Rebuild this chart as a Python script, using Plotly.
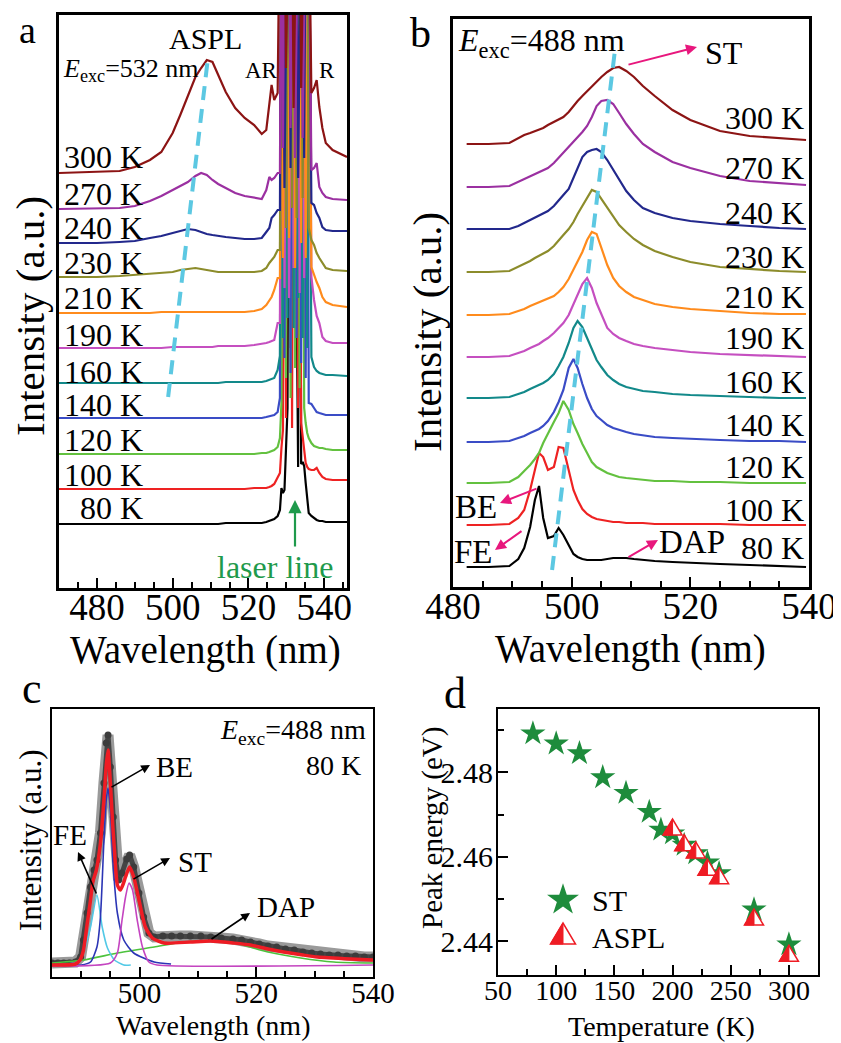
import plotly.graph_objects as go

# The page body adds an 8 px margin, so the figure is sized and positioned to compensate.
PAGE_W, PAGE_H = 841, 1043
OFF = 8
W, H = PAGE_W - OFF, PAGE_H - OFF
SERIF = "Liberation Serif, Times New Roman, serif"

TEMP_LABELS = ["80 K", "100 K", "120 K", "140 K", "160 K", "190 K", "210 K", "230 K", "240 K", "270 K", "300 K"]
TEMP_COLORS = ["#000000", "#ee2222", "#63c13f", "#3a4cc6", "#12898a", "#c54fc0",
               "#ff8b1c", "#8c8c2b", "#22288c", "#9b30a1", "#8c1414"]

# ---------------- panel a : ASPL spectra (E_exc = 532 nm) ----------------
WL_A = [470, 480, 486, 490, 494, 497, 500, 502, 504, 506, 507.5, 509, 510.5, 512, 514, 516.5,
        519, 521.5, 523.5, 524.7, 525.5, 526.1, 526.8, 527.7,
        528.3, 528.7, 529.1, 529.5, 529.9, 530.3, 530.7, 531.1, 531.5, 531.9,
        532.3, 532.7, 533.1, 533.5, 533.9, 534.3, 534.7, 535.1, 535.5, 535.9,
        536.6, 537.3, 538.0, 538.7, 539.5, 540.4, 542.2, 546]
A_300K = [415, 416, 417, 421, 428, 436, 455, 473, 493, 511, 520, 528, 526, 513, 496, 480, 470, 463, 454, 458,
          481, 503, 488, 495,
          700, 700, 700, 700, 520, 700, 700, 700, 700, 480, 700, 700, 700, 700, 500, 700, 700, 700, 700, 700,
          495, 500, 508, 481, 460, 445, 438, 431]
A_270K = [379, 380, 380, 382, 387, 392, 398, 402, 406, 412, 415, 413, 408, 404, 400, 395, 392, 390, 389, 398,
          411, 408, 410, 415,
          415, 700, 440, 700, 700, 700, 700, 460, 700, 700, 430, 700, 700, 700, 700, 450, 700, 700, 700, 700,
          418, 420, 425, 401, 395, 391, 389, 388]
A_240K = [345, 345, 346, 347, 350, 352, 355, 357, 359, 358, 356, 354, 353, 352, 351, 350, 349, 349, 350, 356,
          360, 370, 373, 378,
          378, 700, 700, 400, 700, 700, 700, 420, 700, 700, 700, 700, 410, 700, 700, 700, 430, 700, 700, 700,
          385, 383, 375, 370, 361, 358, 357, 357]
A_230K = [311, 311, 312, 313, 314, 315, 316, 318, 319, 320, 319, 318, 317, 316, 316, 316, 316, 316, 317, 320,
          325, 328, 331, 338,
          338, 700, 700, 700, 360, 700, 700, 700, 380, 700, 700, 370, 700, 700, 700, 390, 700, 700, 700, 360,
          348, 343, 335, 330, 325, 320, 318, 317]
A_210K = [275, 275, 275, 275, 275, 276, 276, 276, 276, 276, 276, 276, 276, 276, 276, 276, 276, 277, 279, 283,
          288, 291, 298, 310,
          310, 700, 330, 700, 700, 700, 350, 700, 700, 700, 320, 700, 700, 700, 345, 700, 700, 330, 700, 700,
          321, 313, 306, 300, 291, 286, 283, 281]
A_190K = [240, 240, 240, 240, 240, 240, 241, 241, 241, 241, 241, 241, 241, 242, 242, 242, 242, 243, 244, 245,
          246, 247, 248, 265,
          265, 700, 700, 300, 700, 700, 290, 700, 700, 320, 700, 700, 700, 295, 700, 700, 310, 700, 700, 700,
          311, 288, 272, 265, 251, 247, 245, 245]
A_160K = [205, 205, 205, 205, 205, 205, 205, 205, 205, 205, 205, 205, 205, 205, 206, 206, 206, 206, 206, 207,
          208, 209, 210, 218,
          232, 700, 250, 700, 700, 270, 700, 700, 700, 260, 700, 700, 290, 700, 700, 250, 700, 700, 240, 700,
          231, 221, 217, 215, 214, 213, 213, 212]
A_140K = [170, 170, 170, 170, 170, 170, 170, 170, 170, 170, 170, 170, 170, 170, 170, 170, 170, 170, 170, 171,
          172, 172, 173, 176,
          190, 700, 700, 230, 700, 700, 700, 215, 700, 700, 700, 250, 700, 700, 225, 700, 700, 210, 700, 185,
          184, 180, 176, 175, 174, 173, 173, 173]
A_120K = [134, 134, 134, 134, 134, 134, 134, 134, 134, 134, 134, 134, 134, 134, 134, 134, 134, 134, 135, 135,
          136, 137, 138, 141,
          150, 185, 700, 700, 210, 700, 700, 190, 700, 700, 220, 700, 700, 200, 700, 700, 180, 165, 155, 150,
          145, 142, 141, 140, 140, 139, 138, 138]
A_100K = [99, 99, 99, 99, 99, 99, 99, 99, 99, 99, 99, 99, 99, 99, 99, 99, 99, 100, 100, 100,
          101, 102, 104, 111,
          115, 140, 158, 700, 170, 700, 700, 700, 160, 700, 700, 700, 180, 700, 165, 150, 135, 125, 121, 119,
          118, 118, 120, 115, 111, 109, 108, 108]
A_80K = [64, 64, 64, 64, 64, 64, 64, 64, 64, 64, 64, 64, 64, 64, 65, 65, 65, 65, 65, 66,
         67, 68, 69, 72,
         78, 100, 95, 98, 131, 180, 700, 240, 700, 700, 700, 300, 121, 700, 124, 126, 122, 105, 90, 75,
         72, 70, 68, 67, 67, 66, 66, 66]
A_CURVES = [A_80K, A_100K, A_120K, A_140K, A_160K, A_190K, A_210K, A_230K, A_240K, A_270K, A_300K]
GUIDE_A_WL = [498.8, 509.3]
GUIDE_A_I = [191, 530]

# ---------------- panel b : PL spectra (E_exc = 488 nm) ----------------
WL_B = [482.3, 486, 489.5, 491, 492, 493, 493.8, 494.5, 495.2, 496, 497, 497.8, 498.6, 499.5, 500.3, 501,
        501.8, 502.6, 503.4, 504.2, 505, 506, 507, 508, 509.2, 510.5, 512, 514, 517, 520, 525, 530, 535, 539.5]
B_300K = [443, 443, 444, 449, 452, 454, 456, 457, 459, 462, 465, 467, 470, 475, 481, 486, 491, 496, 501, 506,
          510, 515, 519, 520, 516, 510, 501, 491, 477, 467, 456, 451, 449, 447]
B_270K = [400, 400, 401, 405, 408, 411, 413, 415, 417, 419, 424, 429, 434, 440, 445, 450, 455, 461, 470, 481,
          486, 487, 483, 474, 463, 453, 443, 435, 425, 419, 411, 406, 404, 402]
B_240K = [358, 358, 358, 361, 364, 367, 369, 371, 373, 376, 381, 387, 392, 398, 409, 420, 430, 435, 437, 438,
          435, 427, 417, 407, 396, 387, 379, 374, 369, 366, 363, 361, 359, 358]
B_230K = [315, 315, 316, 320, 323, 326, 329, 331, 333, 336, 341, 347, 352, 358, 365, 373, 381, 390, 397, 395,
          388, 380, 370, 362, 355, 348, 342, 336, 330, 325, 320, 318, 316, 315]
B_210K = [272, 272, 273, 276, 278, 281, 283, 285, 286, 288, 291, 295, 300, 308, 317, 325, 335, 347, 355, 353,
          339, 322, 309, 301, 295, 290, 287, 283, 280, 278, 276, 274, 273, 273]
B_190K = [230, 230, 231, 234, 236, 239, 241, 243, 246, 249, 254, 259, 264, 272, 283, 293, 303, 309, 299, 284,
          272, 259, 253, 249, 246, 243, 241, 239, 237, 235, 233, 232, 231, 230]
B_160K = [189, 189, 190, 193, 195, 198, 200, 202, 204, 207, 213, 221, 230, 244, 259, 266, 260, 249, 237, 227,
          220, 212, 207, 203, 200, 198, 196, 195, 193, 192, 191, 190, 189, 189]
B_140K = [145, 145, 146, 149, 151, 154, 156, 158, 161, 166, 175, 185, 197, 219, 228, 219, 203, 189, 178, 171,
          167, 162, 159, 157, 155, 153, 152, 150, 149, 148, 147, 146, 146, 145]
B_120K = [104, 104, 105, 110, 116, 122, 128, 134, 144, 154, 165, 174, 186, 177, 163, 154, 143, 134, 125, 120,
          117, 114, 112, 110, 109, 108, 107, 106, 106, 105, 105, 104, 104, 104]
B_100K = [62, 62, 63, 69, 77, 97, 117, 134, 130, 117, 120, 140, 139, 117, 97, 87, 78, 73, 70, 68,
          67, 66, 65, 65, 64, 64, 64, 63, 63, 63, 63, 62, 62, 62]
B_80K = [20, 20, 21, 28, 39, 60, 87, 101, 69, 49, 51, 59, 52, 42, 33, 30, 28, 27, 27, 27,
         27, 28, 29, 29, 29, 28, 27, 26, 25, 24, 23, 22, 21, 20]
B_CURVES = [B_80K, B_100K, B_120K, B_140K, B_160K, B_190K, B_210K, B_230K, B_240K, B_270K, B_300K]
GUIDE_B_WL = [496.7, 507.3]
GUIDE_B_I = [17, 537]

# ---------------- panel c : 80 K spectrum and fit ----------------
C_DATA_WL = [485, 486, 487, 488, 489, 489.9, 490.4, 491, 491.6, 492.2, 492.7, 493.3, 493.9, 494.3, 494.6,
             495, 495.5, 495.9, 496.4, 497, 497.8, 498.3, 499, 499.9, 500.7, 501.6, 502.5, 504, 505.5, 507,
             508.7, 510.5, 512.2, 514, 516, 517.5, 519, 520.5, 522, 523.5, 525, 526.5, 528, 529.5, 531,
             532.5, 534, 535.5, 537, 538.5, 540]
C_DATA = [14, 14, 14, 14, 15, 20, 37, 64, 90, 107, 117, 144, 194, 234, 242,
          210, 160, 117, 97, 104, 118, 122, 110, 84, 60, 44, 40, 41, 41, 41,
          41, 41, 40, 39, 38, 37, 35, 33, 31, 30, 28, 27, 25, 24, 23,
          22, 22, 21, 21, 20, 20]
C_FIT_WL = [485, 489, 489.8, 490.4, 491, 491.6, 492, 492.6, 493.3, 493.9, 494.3, 494.6, 495, 495.4, 495.7,
            496.2, 496.7, 497.2, 497.6, 498.3, 499, 499.9, 501, 502.2, 504.2, 508.7, 512.2, 516, 519, 522,
            524.7, 528, 530.5, 536.2, 540]
C_FIT = [12, 13, 17, 27, 52, 77, 95, 107, 134, 177, 212, 227, 194, 152, 127,
         92, 87, 93, 100, 110, 100, 77, 50, 39, 34, 35, 36, 34, 32, 28,
         25, 22, 20, 18, 17]
C_DAP_WL = [485, 490.4, 496.2, 502.5, 507.6, 512.2, 516.2, 522, 527.6, 533.3, 540]
C_DAP = [14, 17, 24, 30, 35, 36, 34, 25, 19, 15, 14]
C_BE_WL = [485, 490, 491.6, 492.7, 493.3, 493.9, 494.3, 494.6, 495, 495.5, 496.2, 497.3, 499, 502.5, 505.4]
C_BE = [12, 12, 15, 30, 60, 137, 177, 189, 167, 110, 64, 37, 24, 15, 13]
C_FE_WL = [485, 489.3, 490.4, 491.6, 492.7, 493.6, 494.5, 495.7, 497.3, 498.5]
C_FE = [12, 15, 25, 50, 82, 50, 29, 17, 12, 12]
C_ST_WL = [485, 495, 496.2, 497, 497.6, 498.2, 498.8, 499.6, 500.5, 501.6, 503, 540]
C_ST = [11, 14, 24, 57, 80, 94, 87, 57, 30, 15, 12, 12]

# ---------------- panel d : peak energies ----------------
D_ST_T = [80, 100, 120, 140, 160, 180, 190, 200, 210, 220, 230, 240, 270, 300]
D_ST_E = [2.4892, 2.4868, 2.4845, 2.4788, 2.4751, 2.4706, 2.4664, 2.4655, 2.4628, 2.4608, 2.4586, 2.4561,
          2.4475, 2.4392]
D_ASPL_T = [200, 210, 220, 230, 240, 270, 300]
D_ASPL_E = [2.4664, 2.4627, 2.4610, 2.4569, 2.4549, 2.4451, 2.4365]

STAR_GREEN = "#1e8c3c"
TRI_RED = "#ee1c24"
PINK = "#e8177d"
LASER_GREEN = "#1f9a4c"
GUIDE_CYAN = "#5cc8e2"


# ---------------- helpers (reference-pixel positions -> paper) ----------------
def fx(x):
    return (x - OFF) / W


def fy(y):
    return 1 - (y - OFF) / H


def dom_x(l, r):
    return [fx(l), fx(r)]


def dom_y(t, b):
    return [fy(b), fy(t)]


def txt(text, x, y, size, xanchor="center", yanchor="middle", color="black", angle=0):
    return dict(text=text, x=fx(x), y=fy(y), xref="paper", yref="paper", showarrow=False,
                font=dict(family=SERIF, size=size, color=color), xanchor=xanchor, yanchor=yanchor,
                textangle=angle)


def arrow(x0, y0, x1, y1, color, width=2.0, size=1.1):
    return dict(text="", x=fx(x1), y=fy(y1), xref="paper", yref="paper", ax=x0 - x1, ay=y0 - y1,
                showarrow=True, arrowhead=2, arrowsize=size, arrowwidth=width, arrowcolor=color)


def half_triangle(xref, yref, xa, ya, w, h):
    outline = dict(type="path", xref=xref, yref=yref, xsizemode="pixel", ysizemode="pixel",
                   xanchor=xa, yanchor=ya,
                   path=f"M{-w / 2},{-h / 3} L{w / 2},{-h / 3} L0,{2 * h / 3} Z",
                   fillcolor="white", line=dict(color=TRI_RED, width=1.5), layer="above")
    left = dict(type="path", xref=xref, yref=yref, xsizemode="pixel", ysizemode="pixel",
                xanchor=xa, yanchor=ya,
                path=f"M0,{2 * h / 3} L{-w / 2},{-h / 3} L0,{-h / 3} Z",
                fillcolor=TRI_RED, line=dict(color=TRI_RED, width=1), layer="above")
    return [outline, left]


fig = go.Figure()

# panel a curves
for lab, col, ys in zip(TEMP_LABELS, TEMP_COLORS, A_CURVES):
    fig.add_trace(go.Scatter(x=WL_A, y=ys, mode="lines", line=dict(color=col, width=2.2),
                             xaxis="x", yaxis="y", showlegend=False, hoverinfo="skip", name=lab))
fig.add_trace(go.Scatter(x=GUIDE_A_WL, y=GUIDE_A_I, mode="lines",
                         line=dict(color=GUIDE_CYAN, width=4, dash="14px,9px"),
                         xaxis="x", yaxis="y", showlegend=False, hoverinfo="skip"))

# panel b curves
for lab, col, ys in zip(TEMP_LABELS, TEMP_COLORS, B_CURVES):
    fig.add_trace(go.Scatter(x=WL_B, y=ys, mode="lines", line=dict(color=col, width=2.2),
                             xaxis="x2", yaxis="y2", showlegend=False, hoverinfo="skip", name=lab))
fig.add_trace(go.Scatter(x=GUIDE_B_WL, y=GUIDE_B_I, mode="lines",
                         line=dict(color=GUIDE_CYAN, width=4, dash="14px,9px"),
                         xaxis="x2", yaxis="y2", showlegend=False, hoverinfo="skip"))

# panel c
fig.add_trace(go.Scatter(x=C_DATA_WL, y=C_DATA, mode="lines", line=dict(color="#9a9a9a", width=11),
                         xaxis="x3", yaxis="y3", showlegend=False, hoverinfo="skip"))
fig.add_trace(go.Scatter(x=C_DATA_WL, y=C_DATA, mode="lines+markers", line=dict(color="#454545", width=5),
                         marker=dict(color="#3c3c3c", size=7),
                         xaxis="x3", yaxis="y3", showlegend=False, hoverinfo="skip"))
for xs, ys, col in [(C_DAP_WL, C_DAP, "#4cc23c"), (C_FE_WL, C_FE, "#52c9e6"),
                    (C_BE_WL, C_BE, "#2b35b5"), (C_ST_WL, C_ST, "#c444c0")]:
    fig.add_trace(go.Scatter(x=xs, y=ys, mode="lines", line=dict(color=col, width=1.6, shape="spline",
                                                                 smoothing=0.6),
                             xaxis="x3", yaxis="y3", showlegend=False, hoverinfo="skip"))
fig.add_trace(go.Scatter(x=C_FIT_WL, y=C_FIT, mode="lines",
                         line=dict(color="#ee1c24", width=3.5, shape="spline", smoothing=0.6),
                         xaxis="x3", yaxis="y3", showlegend=False, hoverinfo="skip"))

# panel d
fig.add_trace(go.Scatter(x=D_ST_T, y=D_ST_E, mode="markers",
                         marker=dict(symbol="star", size=19, color=STAR_GREEN, line=dict(width=0)),
                         xaxis="x4", yaxis="y4", showlegend=False, hoverinfo="skip"))
shapes = []
for t, e in zip(D_ASPL_T, D_ASPL_E):
    shapes += half_triangle("x4", "y4", t, e, 19, 16)

# legend keys of panel d (overlay axes in reference pixels)
LEGEND_ST_KEY = [563, 900]
LEGEND_ASPL_KEY = [563, 937]
fig.add_trace(go.Scatter(x=[LEGEND_ST_KEY[0]], y=[LEGEND_ST_KEY[1]], mode="markers",
                         marker=dict(symbol="star", size=24, color=STAR_GREEN, line=dict(width=0)),
                         xaxis="x5", yaxis="y5", showlegend=False, hoverinfo="skip"))
shapes += half_triangle("paper", "paper", fx(LEGEND_ASPL_KEY[0]), fy(LEGEND_ASPL_KEY[1]), 25, 21)


# ---------------- axes ----------------
def xax(domain, rng, tick0, dtick, mtick0, mdtick, anchor, fs, standoff, lw=2.5):
    return dict(domain=domain, range=rng, anchor=anchor, showgrid=False, zeroline=False, showline=True,
                mirror=True, linecolor="black", linewidth=lw, ticks="inside", ticklen=10, tickwidth=2,
                tickcolor="black", tick0=tick0, dtick=dtick, automargin=False, ticklabelstandoff=standoff,
                minor=dict(tick0=mtick0, dtick=mdtick, ticks="inside", ticklen=6, tickwidth=1.5,
                           tickcolor="black", showgrid=False),
                tickfont=dict(family=SERIF, size=fs, color="black"))


def yblank(domain, rng, anchor, lw=2.5):
    return dict(domain=domain, range=rng, anchor=anchor, showgrid=False, zeroline=False, showline=True,
                mirror=True, linecolor="black", linewidth=lw, ticks="", showticklabels=False,
                automargin=False)


layout = dict(
    width=W, height=H, autosize=False,
    margin=dict(l=0, r=0, t=0, b=0, pad=0, autoexpand=False),
    paper_bgcolor="white", plot_bgcolor="rgba(0,0,0,0)",
    showlegend=False,
    xaxis=xax(dom_x(59, 347), [470, 546], 480, 20, 475, 5, "y", 37, -15),
    yaxis=yblank(dom_y(15, 588), [0, 573], "x"),
    xaxis2=xax(dom_x(453, 809), [480, 540], 480, 20, 480, 5, "y2", 37, -15),
    yaxis2=yblank(dom_y(19, 587), [0, 568], "x2"),
    xaxis3=xax(dom_x(52, 373), [485, 540], 500, 20, 485, 5, "y3", 29, -11, lw=2),
    yaxis3=yblank(dom_y(709, 977), [0, 268], "x3", lw=2),
    xaxis4=xax(dom_x(498, 818), [50, 325], 50, 50, 75, 25, "y4", 28, -11, lw=2),
    yaxis4=dict(domain=dom_y(709, 975), range=[2.432, 2.495], anchor="x4", showgrid=False, zeroline=False,
                showline=True, mirror=True, linecolor="black", linewidth=2, ticks="inside", ticklen=10,
                tickwidth=2, tickcolor="black", tick0=2.44, dtick=0.02, tickformat=".2f", automargin=False,
                ticklabelstandoff=-3,
                minor=dict(dtick=0.01, ticks="inside", ticklen=6, tickwidth=1.5, tickcolor="black"),
                tickfont=dict(family=SERIF, size=30, color="black")),
    xaxis5=dict(domain=[0, 1], range=[OFF, PAGE_W], anchor="y5", visible=False, automargin=False),
    yaxis5=dict(domain=[0, 1], range=[PAGE_H, OFF], anchor="x5", visible=False, automargin=False),
    shapes=shapes,
)

ann = []
# panel letters
ann += [txt("a", 27, 30, 38), txt("b", 420, 33, 42), txt("c", 32, 688, 44), txt("d", 455, 693, 44)]

# panel a texts
ann += [txt("ASPL", 205, 38, 30),
        txt("<i>E</i><sub>exc</sub>=532 nm", 61, 70, 26, xanchor="left"),
        txt("AR", 262, 70, 23), txt("R", 327, 70, 23),
        txt("laser line", 275, 567, 32, color=LASER_GREEN),
        arrow(295, 548, 295, 500, LASER_GREEN, width=2.2, size=1.2),
        txt("Wavelength (nm)", 205, 650, 39),
        txt("Intensity (a.u.)", 30, 316, 41, angle=-90)]
A_LABEL_X = [78, 62, 62, 62, 62, 62, 62, 62, 62, 62, 62]
A_LABEL_Y = [508, 475, 440, 405, 372, 335, 298, 263, 228, 194, 157]
for lab, lx, ly in zip(TEMP_LABELS, A_LABEL_X, A_LABEL_Y):
    ann.append(txt(lab, lx, ly, 32, xanchor="left"))

# panel b texts
ann += [txt("<i>E</i><sub>exc</sub>=488 nm", 456, 42, 32, xanchor="left"),
        txt("ST", 703, 53, 32, xanchor="left"),
        arrow(627, 65, 697, 47, PINK),
        txt("BE", 476, 507, 33), arrow(538, 488, 500, 503, PINK),
        txt("FE", 473, 552, 33), arrow(523, 530, 495, 550, PINK),
        txt("DAP", 692, 542, 33), arrow(627, 558, 658, 540, PINK),
        txt("Wavelength (nm)", 630, 649, 39),
        txt("Intensity (a.u.)", 427, 332, 41, angle=-90)]
B_LABEL_Y = [548, 510, 467, 425, 382, 338, 297, 257, 213, 168, 118]
for lab, ly in zip(TEMP_LABELS, B_LABEL_Y):
    ann.append(txt(lab, 806, ly, 32, xanchor="right"))

# panel c texts
ann += [txt("<i>E</i><sub>exc</sub>=488 nm", 368, 731, 28, xanchor="right"),
        txt("80 K", 363, 765, 28, xanchor="right"),
        txt("BE", 174, 767, 29), arrow(110, 788, 150, 765, "black", width=1.6),
        txt("FE", 70, 835, 29), arrow(97, 895, 78, 852, "black", width=1.6),
        txt("ST", 195, 862, 29), arrow(132, 880, 170, 858, "black", width=1.6),
        txt("DAP", 286, 907, 29), arrow(210, 940, 250, 913, "black", width=1.6),
        txt("Wavelength (nm)", 213, 1025, 28),
        txt("Intensity (a.u.)", 30, 840, 31, angle=-90)]

# panel d texts
ann += [txt("Temperature (K)", 661, 1026, 28),
        txt("Peak energy (eV)", 432, 828, 29, angle=-90),
        txt("ST", 590, 900, 30, xanchor="left"),
        txt("ASPL", 590, 937, 30, xanchor="left")]

layout["annotations"] = ann
fig.update_layout(**layout)
fig.write_html("out.html")
